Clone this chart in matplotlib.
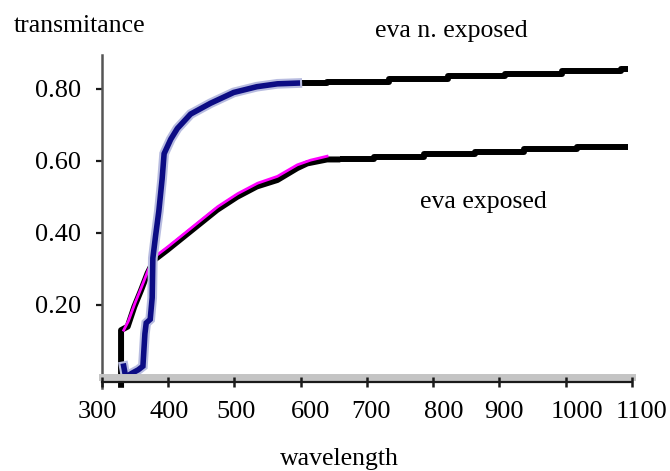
import matplotlib
matplotlib.use("Agg")
import matplotlib.pyplot as plt
from matplotlib.lines import Line2D
from matplotlib.transforms import offset_copy, ScaledTranslation

# eva n. exposed - steep rise (blue), then flat tail (black, stepped)
nexp_wl = [333, 336, 345, 355, 362, 365, 367, 373, 376, 377, 381, 386, 391, 394, 404, 414, 434, 464, 499, 534, 565, 595]
nexp_t = [0.03, 0.0, 0.01, 0.02, 0.03, 0.12, 0.15, 0.16, 0.22, 0.33, 0.39, 0.46, 0.55, 0.62, 0.66, 0.69, 0.73, 0.76, 0.79, 0.806, 0.814, 0.816]
nexp_tail_wl = [595, 640, 734, 823, 909, 994, 1083, 1095]
nexp_tail_t = [0.815, 0.819, 0.827, 0.835, 0.842, 0.849, 0.854, 0.854]

# eva exposed - rising part (black under magenta), then flat tail (black, stepped)
exp_wl = [329, 329, 339, 349, 359, 369, 379, 399, 424, 449, 474, 504, 534, 565, 595, 610, 640, 660]
exp_t = [-0.03, 0.13, 0.14, 0.195, 0.24, 0.288, 0.325, 0.353, 0.39, 0.427, 0.464, 0.50, 0.529, 0.547, 0.58, 0.593, 0.604, 0.604]
exp_pink_wl = [333, 340, 350, 360, 370, 380, 400, 425, 450, 475, 505, 535, 565, 595, 615, 640]
exp_pink_t = [0.13, 0.155, 0.205, 0.25, 0.297, 0.334, 0.362, 0.399, 0.436, 0.473, 0.509, 0.538, 0.557, 0.589, 0.602, 0.613]
exp_tail_wl = [660, 711, 786, 863, 937, 1018, 1095]
exp_tail_t = [0.604, 0.611, 0.618, 0.626, 0.632, 0.639, 0.639]

xticks = [300, 400, 500, 600, 700, 800, 900, 1000, 1100]
yticks = [0.2, 0.4, 0.6, 0.8]
ytick_labels = ['0.20', '0.40', '0.60', '0.80']
# labels in the original sit a little off their ticks (pixels)
xlabel_shift = [-4, 1, 2, 10, 4, 11, 5, 11, 10]

plt.rcParams['font.family'] = ['Liberation Serif', 'DejaVu Serif']
plt.rcParams['font.size'] = 18.5

fig = plt.figure(figsize=(6.7, 4.71), dpi=100)
ax = fig.add_axes([0.152, 0.1996, 0.791, 0.6836])

# black tails
ax.plot(nexp_tail_wl, nexp_tail_t, color='black', lw=4.3, drawstyle='steps-post', solid_capstyle='butt')
ax.plot(exp_tail_wl, exp_tail_t, color='black', lw=4.3, drawstyle='steps-post', solid_capstyle='butt')

# eva exposed rising part
ax.plot(exp_wl, exp_t, color='black', lw=4.3, clip_on=False, solid_capstyle='butt')
ax.plot(exp_pink_wl, exp_pink_t, color='#ff00ff', lw=2.0)

# eva n. exposed rising part (blue with a light halo)
ax.plot(nexp_wl, nexp_t, color='#b8bce0', lw=7, solid_joinstyle='miter')
ax.plot(nexp_wl, nexp_t, color='#0c0c84', lw=4.0, solid_joinstyle='miter')

ax.set_xlim(300, 1100)
ax.set_ylim(0, 0.894)
ax.set_xticks(xticks)
ax.set_xticklabels([str(v) for v in xticks], fontsize=19)
ax.set_yticks(yticks)
ax.set_yticklabels(ytick_labels, fontsize=19)

ax.spines['top'].set_visible(False)
ax.spines['right'].set_visible(False)
ax.spines['left'].set_color('#555555')
ax.spines['left'].set_linewidth(1.8)
ax.spines['left'].set_bounds(-0.03, 0.894)
ax.spines['bottom'].set_color('#c4c4c4')
ax.spines['bottom'].set_linewidth(5.0)
ax.xaxis.set_zorder(3)

# dark rule under the gray x-axis band
dark = Line2D([0, 1], [0, 0], color='#1a1a1a', lw=1.6, zorder=3,
              transform=offset_copy(ax.transAxes, fig=fig, x=0, y=-3.5, units='points'),
              clip_on=False)
ax.add_line(dark)

ax.tick_params(axis='x', direction='out', length=7, width=1.8, color='#1a1a1a', pad=10)
ax.tick_params(axis='y', direction='out', length=4, width=1.6, color='#1a1a1a', pad=11)

# shift x labels after tick_params, which would reset their transforms
for lab, dx in zip(ax.get_xticklabels(), xlabel_shift):
    lab.set_transform(lab.get_transform() + ScaledTranslation(dx / 100, 0, fig.dpi_scale_trans))

fig.text(14 / 670, 1 - 32 / 471, 'transmitance', ha='left', va='baseline')
fig.text(375 / 670, 1 - 37 / 471, 'eva n. exposed', ha='left', va='baseline')
ax.text(780, 0.47, 'eva exposed', ha='left', va='baseline')
fig.text(339 / 670, 1 - 465 / 471, 'wavelength', ha='center', va='baseline')

fig.savefig('out.png', dpi=100)
